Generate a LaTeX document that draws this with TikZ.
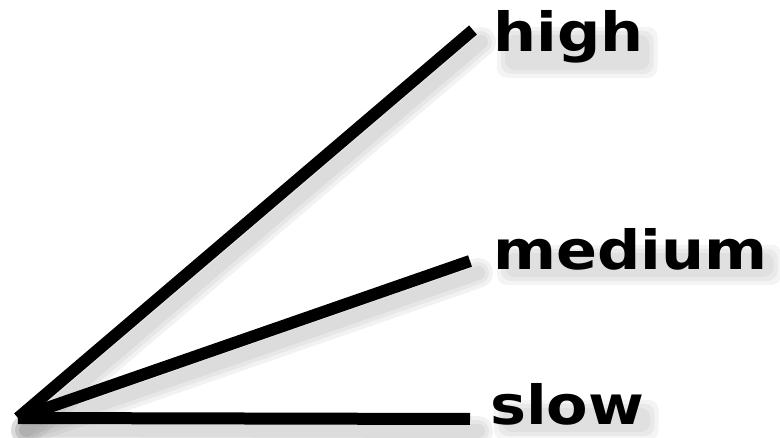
\documentclass[tikz,border=0pt]{standalone}
\usepackage{fontspec}
\setmainfont{DejaVu Sans}
\newfontfamily\labelfont{DejaVu Sans}[FakeStretch=1.12]
\usetikzlibrary{positioning,backgrounds}
\tikzset{
  ray/.style={line width=12pt, line cap=butt},
  rayshadow/.style={line width=#1, gray, line cap=round, opacity=0.1},
  speedlabel/.style={anchor=base west, inner sep=0pt, font=\labelfont\fontsize{54}{54}\selectfont\bfseries},
  smudge/.style={fill=gray, opacity=0.09, rounded corners=#1},
}
\begin{document}
\begin{tikzpicture}[x=1pt,y=-1pt]
\useasboundingbox (0,0) rectangle (780,438);
\coordinate (origin) at (18,418);
\coordinate (highend) at (473,30);
\coordinate (mediumend) at (470,261);
\coordinate (slowend) at (470,419);

% labels
\node[speedlabel] (high) at (493,52) {high};
\node[speedlabel] (medium) at (493,270) {medium};
\node[speedlabel] (slow) at (490,425) {slow};

% soft shadows
\begin{scope}[on background layer]
\foreach \w in {30pt,22pt,14pt}{
  \foreach \e in {highend,mediumend,slowend}
    \draw[rayshadow=\w] ([shift={(8,12)}]origin) -- ([shift={(8,12)}]\e);
}
\foreach \s in {0,4,8}{
  \foreach \t in {high,medium,slow}
    \fill[smudge=10pt] ([shift={(4+\s,16+\s)}]\t.north west) rectangle ([shift={(14-\s,14-\s)}]\t.south east);
}
\end{scope}

% rays
\draw[ray] (origin) -- (highend);
\draw[ray] (origin) -- (mediumend);
\draw[ray] (origin) -- (slowend);
\end{tikzpicture}
\end{document}
